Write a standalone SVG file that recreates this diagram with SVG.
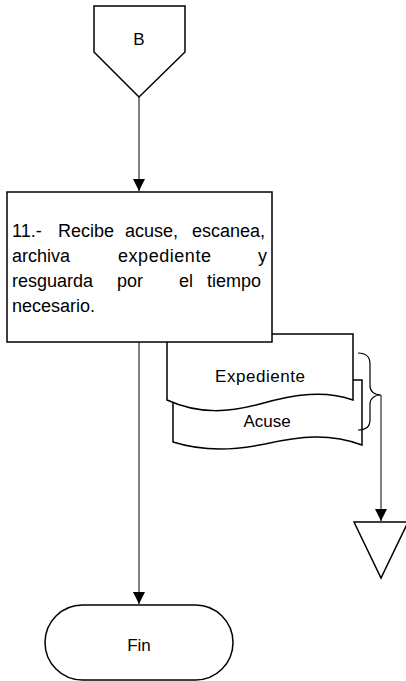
<svg xmlns="http://www.w3.org/2000/svg" width="406" height="681" viewBox="0 0 406 681">
<style>
.s{fill:#fff;stroke:#000;stroke-width:1.5}
.t{font-family:"Liberation Sans",Arial,sans-serif;font-size:17px;fill:#000}
.c{stroke:#000;stroke-width:1;fill:none}
</style>
<defs>
<marker id="ah" markerWidth="12" markerHeight="12" refX="10" refY="5" orient="auto" markerUnits="userSpaceOnUse" viewBox="0 0 10 10">
<path d="M0,0 L10,5 L0,10 Z" fill="#000"/>
</marker>
</defs>
<rect width="406" height="681" fill="#fff"/>
<g id="connectors">
<line class="c" x1="139" y1="97" x2="139" y2="191" marker-end="url(#ah)"/>
<line class="c" x1="139" y1="342" x2="139" y2="604" marker-end="url(#ah)"/>
<line class="c" x1="381" y1="395" x2="381" y2="521" stroke="#555" marker-end="url(#ah)"/>
</g>
<g id="nodeB">
<path class="s" d="M94,6 H185 V52 L139,97 L94,52 Z"/>
<text class="t" x="139" y="45" text-anchor="middle">B</text>
</g>
<g id="docAcuse">
<path class="s" d="M173,380 H362 V445 C330,433 300,436 265,444 C235,450 205,452 173,442 Z"/>
<text class="t" x="267" y="427" text-anchor="middle">Acuse</text>
</g>
<g id="docExpediente">
<path class="s" d="M167,334 H353 V400 C325,390 295,394 260,404 C230,412 200,415 167,400 Z"/>
<text class="t" x="260" y="382" text-anchor="middle" textLength="90" lengthAdjust="spacing">Expediente</text>
</g>
<g id="process11">
<rect class="s" x="7" y="192" width="265" height="150"/>
<g class="t" style="font-size:18px">
<text x="12" y="237">11.-</text>
<text x="58" y="237">Recibe</text>
<text x="125" y="237">acuse,</text>
<text x="192" y="237">escanea,</text>
<text x="12" y="262">archiva</text>
<text x="118" y="262" textLength="93" lengthAdjust="spacing">expediente</text>
<text x="258" y="262">y</text>
<text x="12" y="287">resguarda</text>
<text x="117" y="287">por</text>
<text x="179" y="287">el</text>
<text x="207" y="287">tiempo</text>
<text x="12" y="312">necesario.</text>
</g>
</g>
<g id="brace">
<path d="M358,353 C366,353 370,357 370,364 V386 C370,391 374,395 381,395 C374,395 370,399 370,404 V420 C370,427 366,430 358,430" fill="none" stroke="#000" stroke-width="1.2"/>
</g>
<g id="store">
<path class="s" d="M354,522 H408 L381,578 Z"/>
</g>
<g id="fin">
<rect class="s" x="45" y="605" width="188" height="75" rx="37.5" ry="37.5"/>
<text class="t" x="139" y="651" text-anchor="middle">Fin</text>
</g>
</svg>
